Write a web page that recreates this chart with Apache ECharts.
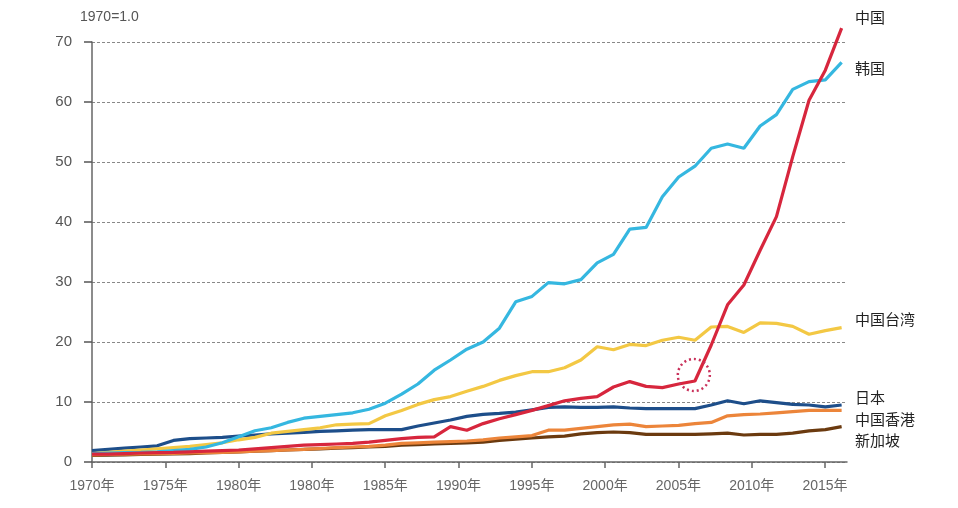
<!DOCTYPE html>
<html>
<head>
<meta charset="utf-8">
<script src="https://cdn.jsdelivr.net/npm/echarts@6/dist/echarts.min.js"></script>
<style>
html,body{margin:0;padding:0;background:#fff;}
#chart{width:958px;height:508px;}
</style>
</head>
<body>
<div id="chart"></div>
<script>
const years = [1970,1971,1972,1973,1974,1975,1976,1977,1978,1979,
  1980,1981,1982,1983,1984,1985,1986,1987,1988,1989,
  1990,1991,1992,1993,1994,1995,1996,1997,1998,1999,
  2000,2001,2002,2003,2004,2005,2006,2007,2008,2009,
  2010,2011,2012,2013,2014,2015,2016];
const tickLabels = ['1970年','1975年','1980年','1980年','1985年','1990年','1995年','2000年','2005年','2010年','2015年'];
const yTicks = [0,10,20,30,40,50,60,70];

const china = [1.3,1.3,1.4,1.5,1.55,1.6,1.7,1.8,1.9,2.0,
  2.2,2.4,2.6,2.8,2.9,3.0,3.1,3.3,3.6,3.9,
  4.1,4.2,5.9,5.3,6.4,7.2,7.9,8.6,9.4,10.2,
  10.6,10.9,12.5,13.4,12.6,12.4,13.0,13.5,19.5,26.2,
  29.5,35.3,40.9,50.9,60.3,65.3,72.3];
const korea = [1.4,1.5,1.55,1.6,1.7,1.9,2.1,2.5,3.2,4.2,
  5.2,5.7,6.6,7.3,7.6,7.9,8.2,8.8,9.8,11.3,
  13.0,15.3,17.0,18.8,20.0,22.3,26.7,27.6,29.9,29.7,
  30.4,33.2,34.6,38.8,39.1,44.2,47.5,49.3,52.3,53.0,
  52.3,56.0,57.9,62.1,63.4,63.7,66.6];
const taiwan = [1.4,1.6,1.8,2.0,2.2,2.4,2.6,2.9,3.2,3.7,
  4.1,4.8,5.1,5.4,5.7,6.2,6.3,6.4,7.7,8.6,
  9.6,10.4,10.9,11.8,12.6,13.6,14.4,15.05,15.05,15.7,
  17.0,19.2,18.7,19.6,19.4,20.3,20.8,20.3,22.5,22.6,
  21.6,23.2,23.1,22.6,21.3,21.9,22.4];
const japan = [1.9,2.1,2.3,2.5,2.7,3.6,3.9,4.0,4.1,4.3,
  4.5,4.7,4.8,4.95,5.1,5.2,5.3,5.4,5.4,5.4,
  6.0,6.5,7.0,7.6,7.95,8.1,8.3,8.7,9.1,9.2,
  9.1,9.1,9.2,9.0,8.9,8.9,8.9,8.9,9.5,10.2,
  9.7,10.2,9.9,9.6,9.5,9.2,9.5];
const hongkong = [1.2,1.25,1.3,1.35,1.4,1.45,1.5,1.55,1.6,1.7,
  1.8,1.9,2.0,2.1,2.25,2.4,2.5,2.6,2.8,3.1,
  3.2,3.3,3.4,3.5,3.7,4.0,4.2,4.4,5.3,5.3,
  5.6,5.9,6.2,6.3,5.9,6.0,6.1,6.4,6.6,7.7,
  7.9,8.0,8.2,8.4,8.6,8.6,8.6];
const singapore = [1.1,1.15,1.2,1.25,1.3,1.35,1.4,1.5,1.6,1.7,
  1.8,1.9,2.0,2.1,2.2,2.3,2.4,2.5,2.6,2.8,
  2.9,3.0,3.1,3.2,3.3,3.6,3.8,4.0,4.2,4.3,
  4.7,4.9,5.0,4.9,4.6,4.6,4.6,4.6,4.7,4.8,
  4.5,4.6,4.6,4.8,5.2,5.4,5.9];
const circleMark = [2006.93, 14.5];

const seriesDefs = [
  {name:'新加坡', data:singapore, color:'#6b3a0f'},
  {name:'中国香港', data:hongkong, color:'#ec853a'},
  {name:'日本', data:japan, color:'#1d4e8a'},
  {name:'中国台湾', data:taiwan, color:'#f3c844'},
  {name:'韩国', data:korea, color:'#35b7e0'},
  {name:'中国', data:china, color:'#d7263d'}
];

const labelFont = '"Liberation Sans", Arial, "Noto Sans CJK SC", sans-serif';
const cjkFont = '"Noto Sans CJK SC", sans-serif';

const chart = echarts.init(document.getElementById('chart'), null, {renderer:'canvas'});

const series = seriesDefs.map(s => {
  const o = {
    name: s.name,
    type: 'line',
    xAxisIndex: 0,
    yAxisIndex: 0,
    data: years.map((y, i) => [y, s.data[i]]),
    showSymbol: false,
    symbol: 'none',
    clip: false,
    lineStyle: {color: s.color, width: 3.2},
    itemStyle: {color: s.color},
    z: 3
  };
  if (s.name === '中国') {
    o.markPoint = {
      symbol: 'circle',
      symbolSize: 32,
      silent: true,
      label: {show: false},
      itemStyle: {color: 'rgba(0,0,0,0)', borderColor: '#c9305a', borderWidth: 2.5, borderType: [2, 3]},
      data: [{coord: circleMark}]
    };
  }
  return o;
});

const endLabels = [
  {text:'中国', y:17},
  {text:'韩国', y:68},
  {text:'中国台湾', y:319},
  {text:'日本', y:397},
  {text:'中国香港', y:419},
  {text:'新加坡', y:440}
];

const option = {
  animation: false,
  backgroundColor: '#fff',
  grid: {left: 92, right: 111, top: 42, bottom: 46, containLabel: false},
  xAxis: [
    {type: 'value', min: 1970, max: 2016.33, show: false, position: 'bottom'},
    {
      type: 'value', min: 0, max: 10.3, interval: 1, position: 'bottom',
      axisLine: {show: true, lineStyle: {color: '#666', width: 1.5}},
      axisTick: {show: true, length: 6, lineStyle: {color: '#666', width: 1.5}},
      axisLabel: {
        color: '#666', fontSize: 14, margin: 17, fontFamily: labelFont,
        formatter: v => tickLabels[Math.round(v)] || ''
      },
      splitLine: {show: false}
    }
  ],
  yAxis: {
    type: 'value', min: yTicks[0], max: yTicks[yTicks.length - 1], interval: 10,
    axisLine: {show: true, lineStyle: {color: '#666', width: 1.5}},
    axisTick: {show: true, length: 8, lineStyle: {color: '#555', width: 1.5}},
    axisLabel: {color: '#555', fontSize: 15, margin: 20, fontFamily: labelFont},
    splitLine: {show: true, lineStyle: {color: '#888', width: 1, type: [3, 2]}}
  },
  graphic: [
    {type: 'text', x: 80, y: 17, style: {text: '1970=1.0', fill: '#555', font: '14px ' + labelFont, verticalAlign: 'middle', align: 'left'}}
  ].concat(endLabels.map(l => ({
    type: 'text', x: 855, y: l.y,
    style: {text: l.text, fill: '#222', font: '15px ' + cjkFont, verticalAlign: 'middle', align: 'left'}
  }))),
  series: series
};

chart.setOption(option);
</script>
</body>
</html>
